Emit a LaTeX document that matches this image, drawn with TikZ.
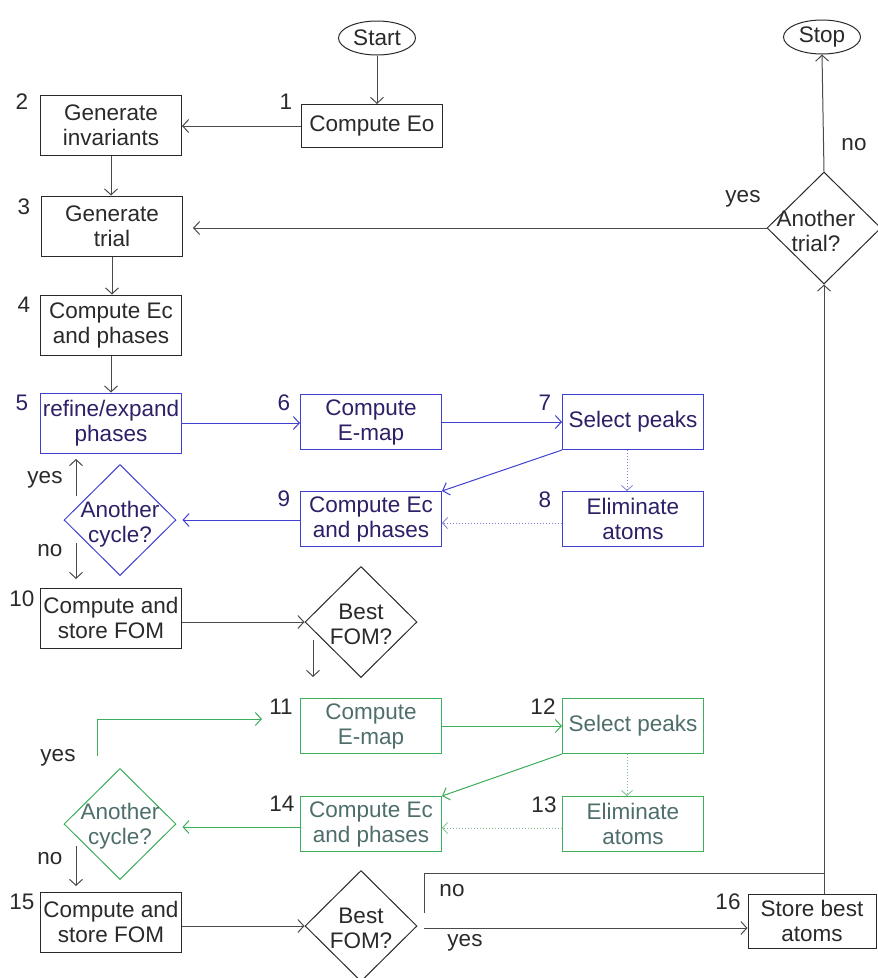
\documentclass[tikz,border=0pt]{standalone}
\usepackage{fontspec}
\setmainfont{Liberation Sans}
\usetikzlibrary{shapes.geometric,arrows.meta}
\definecolor{bk}{HTML}{2A2A2A}
\definecolor{ln}{HTML}{4A4A4A}
\definecolor{bl}{HTML}{3F3FD0}
\definecolor{bltext}{HTML}{2E1F66}
\definecolor{bldot}{HTML}{7C7CD4}
\definecolor{gr}{HTML}{3DAE5C}
\definecolor{grtext}{HTML}{4E6E6C}
\definecolor{grdot}{HTML}{7CC090}
\begin{document}
\begin{tikzpicture}[x=1pt,y=-1pt,
  font=\fontsize{22.5}{25}\selectfont,
  box/.style={draw=bk, line width=1pt, minimum width=141pt, minimum height=60pt, inner sep=0pt, align=center, text=bk},
  rbox/.style={box, minimum height=55pt},
  bbox/.style={rbox, draw=bl, text=bltext},
  gbox/.style={rbox, draw=gr, text=grtext},
  term/.style={ellipse, draw=bk, line width=1pt, minimum width=77pt, minimum height=34pt, inner sep=0pt, text=bk},
  dia/.style={diamond, draw=bk, line width=1pt, minimum width=112pt, minimum height=111pt, inner sep=0pt},
  dtext/.style={align=center, inner sep=0pt, text=bk},
  num/.style={inner sep=0pt, text=bk},
  lab/.style={inner sep=0pt, text=bk},
  arr/.style={line width=1pt, draw=ln, -{Straight Barb[length=6pt,width=13pt,line width=1pt]}},
  plain/.style={line width=1pt, draw=ln},
  barr/.style={arr, draw=bl},
  garr/.style={arr, draw=gr},
  bdot/.style={line width=1pt, draw=bldot, dotted, -{Straight Barb[length=5pt,width=11pt,line width=0.8pt]}},
  gdot/.style={line width=1pt, draw=grdot, dotted, -{Straight Barb[length=5pt,width=11pt,line width=0.8pt]}},
]
\useasboundingbox (0,0) rectangle (878,978);
\fill[white] (0,0) rectangle (878,978);

% terminals
\node[term] (start) at (377,38) {Start};
\node[term] (stop) at (822,37) {Stop};

% main black column
\node[box, minimum height=43pt] (n1) at (372,126) {Compute Eo};
\node[box] (n2) at (111,125) {Generate\\invariants};
\node[box] (n3) at (112,226) {Generate\\trial};
\node[box] (n4) at (111,325) {Compute Ec\\and phases};

% blue loop
\node[bbox, minimum height=60pt] (n5) at (111,423) {refine/expand\\phases};
\node[bbox] (n6) at (371,422) {Compute\\E-map};
\node[bbox] (n7) at (633,422) {Select peaks};
\node[bbox] (n8) at (633,519) {Eliminate\\atoms};
\node[bbox] (n9) at (371,519) {Compute Ec\\and phases};
\node[dia, draw=bl] (d1) at (120,520) {};
\node[dtext, text=bltext] (d1t) at (120,524) {Another\\cycle?};

\node[box] (n10) at (111,618) {Compute and\\store FOM};
\node[dia] (d2) at (361,622) {};
\node[dtext] (d2t) at (361,624) {Best\\FOM?};

% green loop
\node[gbox] (n11) at (371,726) {Compute\\E-map};
\node[gbox] (n12) at (633,726) {Select peaks};
\node[gbox] (n13) at (633,824) {Eliminate\\atoms};
\node[gbox] (n14) at (371,824) {Compute Ec\\and phases};
\node[dia, draw=gr] (d3) at (120,824) {};
\node[dtext, text=grtext] (d3t) at (120,826) {Another\\cycle?};

\node[box] (n15) at (111,922) {Compute and\\store FOM};
\node[dia] (d4) at (361,926) {};
\node[dtext] (d4t) at (361,928) {Best\\FOM?};

\node[box, minimum width=128pt, minimum height=54pt] (n16) at (812,921) {Store best\\atoms};

\node[dia, minimum width=114pt, minimum height=112pt] (d5) at (824,228) {};
\node[dtext] (d5t) at (816,231) {Another\\trial?};

% number labels
\node[num] (l1) at (286,102) {1};
\node[num] (l2) at (22,102) {2};
\node[num] (l3) at (24,207) {3};
\node[num] (l4) at (24,305) {4};
\node[num, text=bltext] (l5) at (22,403) {5};
\node[num, text=bltext] (l6) at (284,403) {6};
\node[num, text=bltext] (l7) at (545,403) {7};
\node[num, text=bltext] (l8) at (545,500) {8};
\node[num, text=bltext] (l9) at (284,499) {9};
\node[num] (l10) at (22,599) {10};
\node[num] (l11) at (281,707) {11};
\node[num] (l12) at (543,707) {12};
\node[num] (l13) at (544,805) {13};
\node[num] (l14) at (282,804) {14};
\node[num] (l15) at (22,902) {15};
\node[num] (l16) at (728,902) {16};

% yes / no labels
\node[lab] (yes5) at (743,199) {yes};
\node[lab] (no5) at (854,145) {no};
\node[lab] (yes1) at (45,480) {yes};
\node[lab] (no1) at (50,551) {no};
\node[lab] (yes3) at (58,758) {yes};
\node[lab] (no3) at (50,859) {no};
\node[lab] (no4) at (452,891) {no};
\node[lab] (yes4) at (465,943) {yes};

% free-end coordinates
\coordinate (c3) at (193,228);
\coordinate (y1a) at (76,496);
\coordinate (y1b) at (76,459);
\coordinate (no1a) at (76,543);
\coordinate (no1b) at (76,579);
\coordinate (b2a) at (313,640);
\coordinate (b2b) at (313,677);
\coordinate (y3a) at (97,756);
\coordinate (y3b) at (97,719);
\coordinate (y3c) at (262,719);
\coordinate (no3a) at (76,846);
\coordinate (no3b) at (76,886);
\coordinate (cn1) at (424,913);
\coordinate (cn2) at (424,873);
\coordinate (cy) at (424,928);

% black connectors
\draw[arr] (start.south) -- (start.south |- n1.north);
\draw[arr] (n1.west) -- (n1.west -| n2.east);
\draw[arr] (n2.south) -- (n2.south |- n3.north);
\draw[arr] (n3.south) -- (n3.south |- n4.north);
\draw[arr] (n4.south) -- (n4.south |- n5.north);
\draw[arr] (d5.west) -- (c3);
\draw[arr] (d5.north) -- (stop.south);
\draw[arr] (d5.south |- n16.north) -- (d5.south);
\draw[plain] (cn1) -- (cn2) -- (cn2 -| d5.south);
\draw[arr] (cy) -- (cy -| n16.west);
\draw[arr] (d2.west -| n10.east) -- (d2.west);
\draw[arr] (b2a) -- (b2b);
\draw[arr] (d4.west -| n15.east) -- (d4.west);
\draw[arr] (y1a) -- (y1b);
\draw[arr] (no1a) -- (no1b);
\draw[arr] (no3a) -- (no3b);

% blue connectors
\draw[barr] (n5.east) -- (n5.east -| n6.west);
\draw[barr] (n6.east) -- (n7.west);
\draw[barr] (n7.south west) -- (n9.north east);
\draw[bdot] ([xshift=-6pt]n7.south) -- ([xshift=-6pt]n8.north);
\draw[bdot] ([yshift=-4pt]n8.west) -- ([yshift=-4pt]n9.east);
\draw[barr] (d1.east -| n9.west) -- ([xshift=6pt]d1.east);

% green connectors
\draw[garr] (y3a) -- (y3b) -- (y3c);
\draw[garr] (n11.east) -- (n12.west);
\draw[garr] (n12.south west) -- (n14.north east);
\draw[gdot] ([xshift=-6pt]n12.south) -- ([xshift=-6pt]n13.north);
\draw[gdot] ([yshift=-4pt]n13.west) -- ([yshift=-4pt]n14.east);
\draw[garr] ([yshift=-3pt]d3.east -| n14.west) -- ([xshift=6pt,yshift=-3pt]d3.east);
\end{tikzpicture}
\end{document}
